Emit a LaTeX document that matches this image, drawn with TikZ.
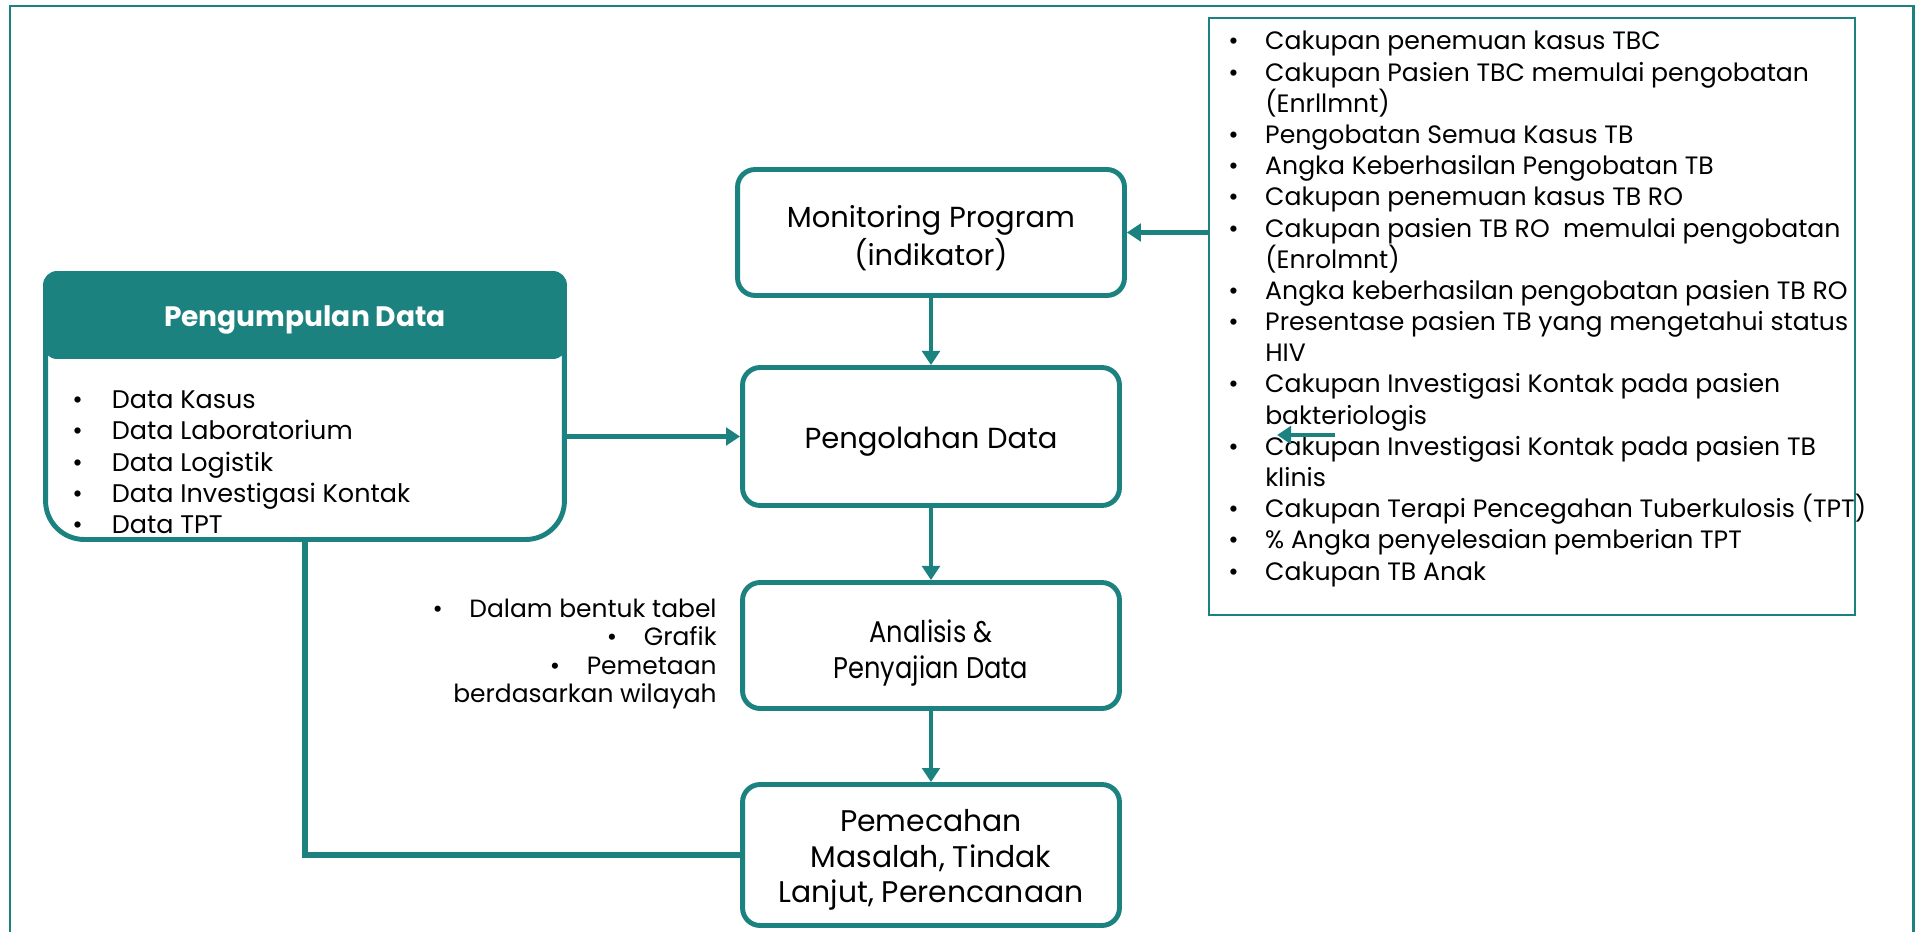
\documentclass[tikz,border=0pt]{standalone}
\usepackage{fontspec}
\setmainfont{Poppins}
\newfontfamily\narrowfont[FakeStretch=0.86]{Poppins}
\usetikzlibrary{arrows.meta}
\definecolor{tosca}{RGB}{27,130,128}
\newcommand{\bul}[2][21pt]{\makebox[#1][l]{\textbullet}#2}
\newcommand{\sambung}[1]{\hspace*{21pt}#1}

\begin{document}
\begin{tikzpicture}[x=0.02cm,y=-0.02cm,
    kotak/.style={draw=tosca,line width=2.8pt,rounded corners=10pt,align=center,inner sep=0pt,
                  font=\fontsize{16.5}{21.5}\selectfont},
    panah/.style={-{Triangle[width=10pt,length=8pt]},line width=2.6pt,tosca},
    daftar/.style={align=left,inner sep=0pt,anchor=north west,font=\fontsize{14.3}{17.75}\selectfont}]
    \useasboundingbox (0,0) rectangle (1920,932);

    % frame, open at the bottom
    \draw[tosca,line width=1.7pt] (10,932) -- (10,6) -- (1913,6) -- (1913,932);

    % data collection block: outline first, header on top of it
    \node[draw=tosca,line width=2.8pt,rounded corners=22pt,minimum width=10.38cm,minimum height=4.74cm] (kisi) at (305,421) {};
    \node[fill=tosca,rounded corners=8pt,minimum width=10.48cm,minimum height=1.76cm,
          text=white,font=\bfseries\fontsize{16}{19}\selectfont] (kumpul) at (305,315) {\rule{0pt}{17.5pt}Pengumpulan Data};
    \node[daftar,font=\fontsize{14.5}{17.9}\selectfont] (kdata) at (72,390) {\bul[22.5pt]{Data Kasus}\\
        \bul[22.5pt]{Data Laboratorium}\\\bul[22.5pt]{Data Logistik}\\
        \bul[22.5pt]{Data Investigasi Kontak}\\\bul[22.5pt]{Data TPT}};

    % the four steps
    \node[kotak,minimum width=7.74cm,minimum height=2.52cm] (mon) at (931,232.5) {\rule{0pt}{19pt}Monitoring Program\\(indikator)};
    \node[kotak,minimum width=7.54cm,minimum height=2.76cm] (olah) at (931,436.5) {\rule{0pt}{18.2pt}Pengolahan Data};
    \node[kotak,minimum width=7.54cm,minimum height=2.52cm,font=\narrowfont\fontsize{17}{20.5}\selectfont]
        (anal) at (931,645.5) {\rule{0pt}{21.6pt}Analisis \&\\Penyajian Data};
    \node[kotak,minimum width=7.54cm,minimum height=2.82cm,font=\fontsize{17}{20.4}\selectfont]
        (pem) at (931,855) {\rule{0pt}{18.2pt}Pemecahan\\Masalah, Tindak\\Lanjut, Perencanaan};

    \node[align=right,anchor=north east,inner sep=0pt,font=\fontsize{14.2}{16}\selectfont]
        (ket) at (717,599) {\bul[21pt]{Dalam bentuk tabel}\\\bul[21pt]{Grafik}\\\bul[21pt]{Pemetaan}\\berdasarkan wilayah};

    % indicator list
    \node[draw=tosca,line width=1.2pt,minimum width=12.92cm,minimum height=11.94cm] (ind) at (1532,316.5) {};
    \node[daftar] (indteks) at (1228,31) {\bul{Cakupan penemuan kasus TBC}\\
        \bul{Cakupan Pasien TBC memulai pengobatan}\\
        \sambung{(Enrllmnt)}\\
        \bul{Pengobatan Semua Kasus TB}\\
        \bul{Angka Keberhasilan Pengobatan TB}\\
        \bul{Cakupan penemuan kasus TB RO}\\
        \bul{Cakupan pasien TB RO\ \ memulai pengobatan}\\
        \sambung{(Enrolmnt)}\\
        \bul{Angka keberhasilan pengobatan pasien TB RO}\\
        \bul{Presentase pasien TB yang mengetahui status}\\
        \sambung{HIV}\\
        \bul{Cakupan Investigasi Kontak pada pasien}\\
        \sambung{bakteriologis}\\
        \bul{Cakupan Investigasi Kontak pada pasien TB}\\
        \sambung{klinis}\\
        \bul{Cakupan Terapi Pencegahan Tuberkulosis (TPT)}\\
        \bul{\% Angka penyelesaian pemberian TPT}\\
        \bul{Cakupan TB Anak}};

    % connectors
    \draw[panah] (mon) -- (olah);
    \draw[panah] (olah) -- (anal);
    \draw[panah] (anal) -- (pem);
    \draw[panah] (ind.west |- mon.east) -- (mon.east);
    \draw[panah] (kisi.east |- olah.west) -- (olah.west);
    \draw[tosca,line width=3.6pt] (kisi.south) |- (pem.west);
    \coordinate (sisa1) at (1335,435);
    \coordinate (sisa0) at (1277,435);
    \draw[panah,line width=2.2pt] (sisa1) -- (sisa0);
\end{tikzpicture}
\end{document}
